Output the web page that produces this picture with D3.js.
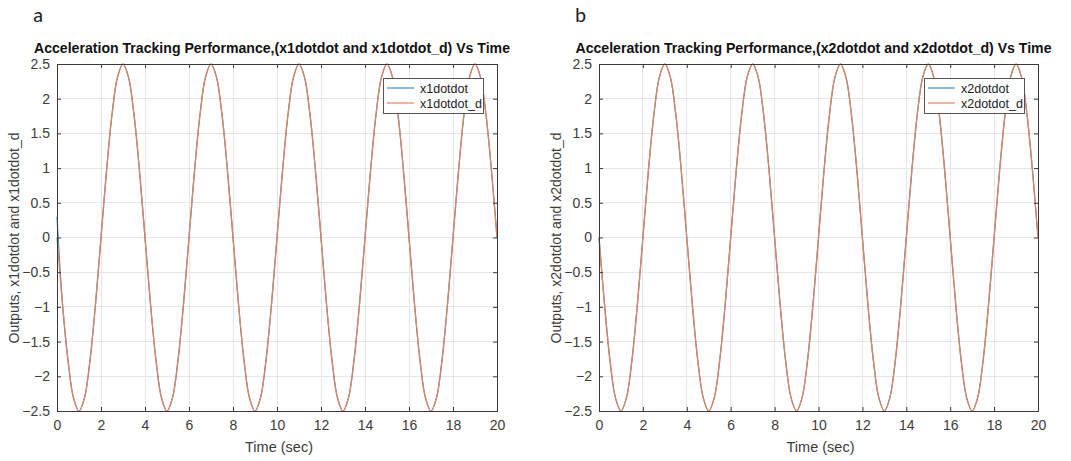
<!DOCTYPE html>
<html>
<head>
<meta charset="utf-8">
<script src="https://cdn.jsdelivr.net/npm/d3@7"></script>
<style>
html,body{margin:0;padding:0;background:#fff;}
svg{display:block;font-family:"Liberation Sans",Arial,sans-serif;}
</style>
</head>
<body>
<svg id="chart" width="1071" height="461"></svg>
<script>
// ---- data ----
const time = [0,0.25,0.5,0.75,1,1.25,1.5,1.75,2,2.25,2.5,2.75,3,3.25,3.5,3.75,
  4,4.25,4.5,4.75,5,5.25,5.5,5.75,6,6.25,6.5,6.75,7,7.25,7.5,7.75,
  8,8.25,8.5,8.75,9,9.25,9.5,9.75,10,10.25,10.5,10.75,11,11.25,11.5,11.75,
  12,12.25,12.5,12.75,13,13.25,13.5,13.75,14,14.25,14.5,14.75,15,15.25,15.5,15.75,
  16,16.25,16.5,16.75,17,17.25,17.5,17.75,18,18.25,18.5,18.75,19,19.25,19.5,19.75,20];
const x1dotdot_d = [0,-0.96,-1.77,-2.31,-2.5,-2.31,-1.77,-0.96,0,0.96,1.77,2.31,2.5,2.31,1.77,0.96,
  0,-0.96,-1.77,-2.31,-2.5,-2.31,-1.77,-0.96,0,0.96,1.77,2.31,2.5,2.31,1.77,0.96,
  0,-0.96,-1.77,-2.31,-2.5,-2.31,-1.77,-0.96,0,0.96,1.77,2.31,2.5,2.31,1.77,0.96,
  0,-0.96,-1.77,-2.31,-2.5,-2.31,-1.77,-0.96,0,0.96,1.77,2.31,2.5,2.31,1.77,0.96,
  0,-0.96,-1.77,-2.31,-2.5,-2.31,-1.77,-0.96,0,0.96,1.77,2.31,2.5,2.31,1.77,0.96,0];
const x1dotdot = [0.3,-0.96,-1.77,-2.31,-2.5,-2.31,-1.77,-0.96,0,0.96,1.77,2.31,2.5,2.31,1.77,0.96,
  0,-0.96,-1.77,-2.31,-2.5,-2.31,-1.77,-0.96,0,0.96,1.77,2.31,2.5,2.31,1.77,0.96,
  0,-0.96,-1.77,-2.31,-2.5,-2.31,-1.77,-0.96,0,0.96,1.77,2.31,2.5,2.31,1.77,0.96,
  0,-0.96,-1.77,-2.31,-2.5,-2.31,-1.77,-0.96,0,0.96,1.77,2.31,2.5,2.31,1.77,0.96,
  0,-0.96,-1.77,-2.31,-2.5,-2.31,-1.77,-0.96,0,0.96,1.77,2.31,2.5,2.31,1.77,0.96,0];
const x2dotdot_d = [0,-0.96,-1.77,-2.31,-2.5,-2.31,-1.77,-0.96,0,0.96,1.77,2.31,2.5,2.31,1.77,0.96,
  0,-0.96,-1.77,-2.31,-2.5,-2.31,-1.77,-0.96,0,0.96,1.77,2.31,2.5,2.31,1.77,0.96,
  0,-0.96,-1.77,-2.31,-2.5,-2.31,-1.77,-0.96,0,0.96,1.77,2.31,2.5,2.31,1.77,0.96,
  0,-0.96,-1.77,-2.31,-2.5,-2.31,-1.77,-0.96,0,0.96,1.77,2.31,2.5,2.31,1.77,0.96,
  0,-0.96,-1.77,-2.31,-2.5,-2.31,-1.77,-0.96,0,0.96,1.77,2.31,2.5,2.31,1.77,0.96,0];
const x2dotdot = x2dotdot_d.slice();
const xTicks = [0,2,4,6,8,10,12,14,16,18,20];
const yTicks = [-2.5,-2,-1.5,-1,-0.5,0,0.5,1,1.5,2,2.5];
const panelLetters = ["a","b"];
const titles = ["Acceleration Tracking Performance,(x1dotdot and x1dotdot_d) Vs Time",
                "Acceleration Tracking Performance,(x2dotdot and x2dotdot_d) Vs Time"];
const yLabels = ["Outputs, x1dotdot and x1dotdot_d","Outputs, x2dotdot and x2dotdot_d"];
const legendNames = [["x1dotdot","x1dotdot_d"],["x2dotdot","x2dotdot_d"]];
const xLabel = "Time (sec)";

const colors = ["#3d8fc9","#dd8460"];
const svg = d3.select("#chart");

const panels = [
  {left:57, right:497, top:64, bottom:411, actual:x1dotdot, desired:x1dotdot_d, letterX:33},
  {left:599, right:1038, top:64, bottom:411, actual:x2dotdot, desired:x2dotdot_d, letterX:575}
];

panels.forEach((p,i)=>{
  const g = svg.append("g");
  const x = d3.scaleLinear().domain([0,20]).range([p.left,p.right]);
  const y = d3.scaleLinear().domain([-2.5,2.5]).range([p.bottom,p.top]);
  const axisCol = "#3a3a3a", textCol = "#3c3c3c";

  // grid
  g.append("g").selectAll("line").data(xTicks.slice(1,-1)).join("line")
    .attr("x1",d=>x(d)).attr("x2",d=>x(d)).attr("y1",p.top).attr("y2",p.bottom)
    .attr("stroke","#e6e6e6").attr("stroke-width",1).attr("shape-rendering","crispEdges");
  g.append("g").selectAll("line").data(yTicks.slice(1,-1)).join("line")
    .attr("y1",d=>y(d)).attr("y2",d=>y(d)).attr("x1",p.left).attr("x2",p.right)
    .attr("stroke","#e6e6e6").attr("stroke-width",1).attr("shape-rendering","crispEdges");

  // lines
  const line = d3.line().x((d,k)=>x(time[k])).y(d=>y(d)).curve(d3.curveCatmullRom.alpha(0.5));
  g.append("path").datum(p.actual).attr("d",line).attr("fill","none")
    .attr("stroke",colors[0]).attr("stroke-width",1.2);
  g.append("path").datum(p.desired).attr("d",line).attr("fill","none")
    .attr("stroke",colors[1]).attr("stroke-width",1.3);

  // axes (ticks inward, box)
  const tl = 4;
  const axB = d3.axisBottom(x).tickValues(xTicks).tickSize(-tl).tickPadding(9).tickFormat(d3.format("d"));
  const axL = d3.axisLeft(y).tickValues(yTicks).tickSize(-tl).tickPadding(7).tickFormat(d=>d3.format("")(d));
  const axT = d3.axisTop(x).tickValues(xTicks).tickSize(-tl).tickFormat("");
  const axR = d3.axisRight(y).tickValues(yTicks).tickSize(-tl).tickFormat("");
  [[axB,`translate(0,${p.bottom})`],[axL,`translate(${p.left},0)`],[axT,`translate(0,${p.top})`],[axR,`translate(${p.right},0)`]]
    .forEach(([ax,tr])=>{
      const a = g.append("g").attr("transform",tr).call(ax);
      a.select(".domain").attr("stroke",axisCol).attr("stroke-width",1);
      a.selectAll(".tick line").attr("stroke",axisCol);
      a.selectAll("text").attr("fill",textCol).attr("font-size",14)
        .attr("font-family","'Liberation Sans',Arial,sans-serif");
    });

  // title
  g.append("text").attr("x",(p.left+p.right)/2-5).attr("y",53)
    .attr("text-anchor","middle").attr("font-weight","bold").attr("font-size",14.5)
    .attr("fill","#111").attr("textLength",476).attr("lengthAdjust","spacingAndGlyphs")
    .text(titles[i]);
  // panel letter
  g.append("text").attr("x",p.letterX).attr("y",22).attr("font-size",21).attr("fill","#222")
    .attr("font-family","Calibri,Carlito,'Liberation Sans',sans-serif").text(panelLetters[i]);
  // x label
  g.append("text").attr("x",(p.left+p.right)/2+2).attr("y",452).attr("text-anchor","middle")
    .attr("font-size",14.5).attr("fill",textCol).text(xLabel);
  // y label
  g.append("text").attr("transform",`translate(${p.left-38},238) rotate(-90)`)
    .attr("text-anchor","middle").attr("font-size",14).attr("fill",textCol).text(yLabels[i]);

  // legend
  const lx = p.right-114, ly = p.top+14, lw = 100, lh = 35;
  const lg = g.append("g");
  lg.append("rect").attr("x",lx).attr("y",ly).attr("width",lw).attr("height",lh)
    .attr("fill","#fff").attr("stroke","#555").attr("stroke-width",1).attr("shape-rendering","crispEdges");
  legendNames[i].forEach((nm,k)=>{
    const yy = ly+10+k*15;
    lg.append("line").attr("x1",lx+4).attr("x2",lx+31).attr("y1",yy).attr("y2",yy)
      .attr("stroke",colors[k]).attr("stroke-width",1.2);
    lg.append("text").attr("x",lx+37).attr("y",yy+4.5).attr("font-size",12.5).attr("fill","#222").text(nm);
  });
});
</script>
</body>
</html>
